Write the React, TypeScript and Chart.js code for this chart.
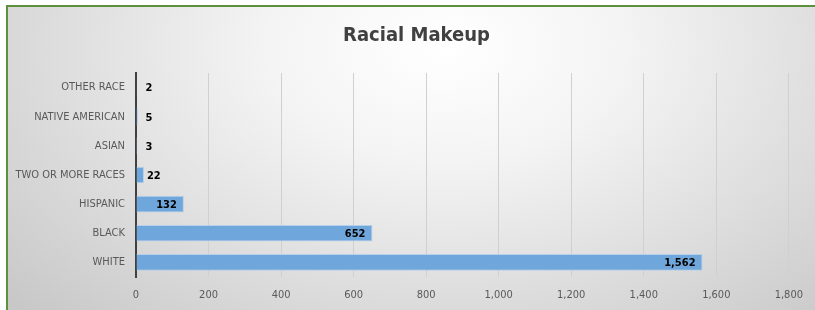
import React, { useEffect, useRef } from 'react';
import { Chart, registerables } from 'chart.js';
Chart.register(...registerables);

const categories = ['OTHER RACE', 'NATIVE AMERICAN', 'ASIAN', 'TWO OR MORE RACES', 'HISPANIC', 'BLACK', 'WHITE'];
const values = [2, 5, 3, 22, 132, 652, 1562];
const xTicks = [0, 200, 400, 600, 800, 1000, 1200, 1400, 1600, 1800];
const title = 'Racial Makeup';

const FONT = '"Liberation Sans Narrow", "DejaVu Sans Condensed", sans-serif';

const fmt = (v: number) => v.toLocaleString('en-US');

const labelPlugin = {
  id: 'barLabels',
  afterDatasetsDraw(chart: any) {
    const ctx = chart.ctx;
    const meta = chart.getDatasetMeta(0);
    ctx.save();
    ctx.font = `bold 11px ${FONT}`;
    ctx.fillStyle = '#000';
    ctx.textBaseline = 'middle';
    meta.data.forEach((el: any, i: number) => {
      const txt = fmt(values[i]);
      const w = ctx.measureText(txt).width;
      const barW = el.x - el.base;
      if (barW > w + 14) {
        ctx.textAlign = 'right';
        ctx.fillText(txt, el.x - 7, el.y + 1);
      } else {
        ctx.textAlign = 'left';
        ctx.fillText(txt, Math.max(el.x + 3, el.base + 9), el.y + 1);
      }
    });
    ctx.restore();
  },
};

// draws the title centred on the framed panel (which starts at x=6)
const titlePlugin = {
  id: 'panelTitle',
  afterDraw(chart: any) {
    const ctx = chart.ctx;
    const t = chart.titleBlock;
    ctx.save();
    ctx.font = `bold 20px ${FONT}`;
    ctx.fillStyle = '#404040';
    ctx.textAlign = 'center';
    ctx.textBaseline = 'middle';
    const cy = t ? t.top + 24 + 12 : 36;
    ctx.fillText(title, (chart.width + 12) / 2 + 3, cy);
    ctx.restore();
  },
};

export default function App() {
  const ref = useRef<HTMLCanvasElement>(null);
  useEffect(() => {
    document.body.style.margin = '0';
    document.body.style.overflow = 'hidden';
    const chart = new Chart(ref.current!, {
      type: 'bar',
      data: {
        labels: categories,
        datasets: [
          {
            data: values,
            backgroundColor: '#6fa6db',
            borderColor: 'rgba(180,208,236,0.95)',
            borderWidth: 1,
            barPercentage: 0.57,
            categoryPercentage: 1,
          },
        ],
      },
      options: {
        indexAxis: 'y',
        responsive: false,
        animation: false,
        layout: { padding: { left: 0, right: 25, top: 0, bottom: 0 } },
        plugins: {
          legend: { display: false },
          tooltip: { enabled: false },
          title: {
            display: true,
            text: title,
            color: 'rgba(0,0,0,0)',
            font: { family: FONT, size: 20, weight: 'bold' },
            padding: { top: 24, bottom: 25 },
          },
        },
        scales: {
          x: {
            min: xTicks[0],
            max: xTicks[xTicks.length - 1],
            ticks: {
              stepSize: xTicks[1] - xTicks[0],
              callback: (v: any) => fmt(Number(v)),
              color: '#595959',
              font: { family: FONT, size: 11 },
              padding: 12,
            },
            grid: { color: '#d0d0d0', lineWidth: 1, drawTicks: false },
            border: { display: false },
            afterFit: (s: any) => {
              s.height = 33;
            },
          },
          y: {
            ticks: {
              color: '#595959',
              font: { family: FONT, size: 11 },
              padding: 11,
            },
            grid: { display: false, drawTicks: false },
            border: { display: true, color: '#404040', width: 2 },
            afterFit: (s: any) => {
              s.width = 136;
            },
          },
        },
      },
      plugins: [labelPlugin, titlePlugin],
    });
    return () => chart.destroy();
  }, []);
  return (
    <div style={{ position: 'relative', width: 815, height: 310, overflow: 'hidden' }}>
      <div
        style={{
          position: 'absolute',
          left: 6,
          top: 5,
          width: 840,
          height: 340,
          borderLeft: '2px solid #5e8f3a',
          borderTop: '2px solid #5e8f3a',
          background:
            'radial-gradient(ellipse 70% 110% at 52% 12%, #ffffff 0%, #f4f4f4 30%, #dedede 65%, #c8c8c8 100%)',
        }}
      />
      <canvas ref={ref} width={815} height={310} style={{ position: 'absolute', left: 0, top: 0 }} />
    </div>
  );
}
